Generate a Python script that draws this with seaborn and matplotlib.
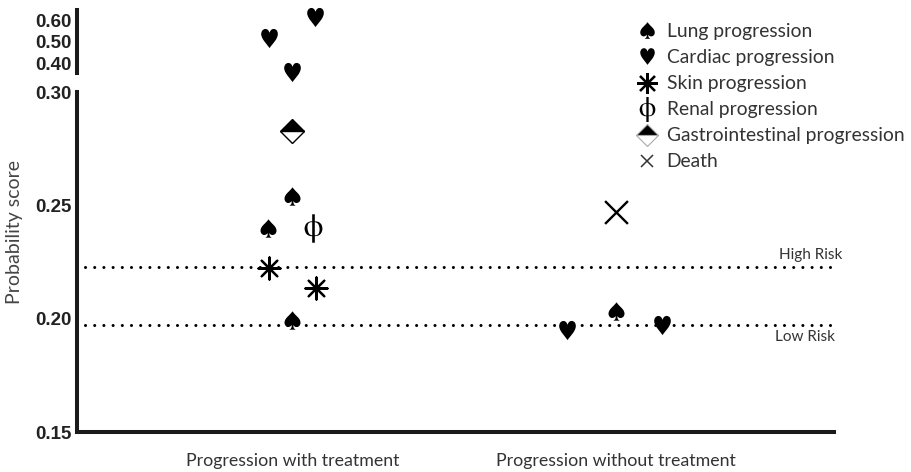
import numpy as np
import pandas as pd
import matplotlib.pyplot as plt
import seaborn as sns
from matplotlib.lines import Line2D
from matplotlib.markers import MarkerStyle

sns.set_style("white")
plt.rcParams["font.family"] = ["Lato", "DejaVu Sans"]
plt.rcParams["mathtext.fontset"] = "stix"

# ---- data ----
categories = ["Progression with treatment", "Progression without treatment"]
outcome = ["Lung", "Lung", "Lung", "Lung",
           "Cardiac", "Cardiac", "Cardiac", "Cardiac", "Cardiac",
           "Skin", "Skin", "Renal", "GI", "Death"]
group = [0, 0, 0, 1,
         0, 0, 0, 1, 1,
         0, 0, 0, 0, 1]
score = [0.2544, 0.2402, 0.1996, 0.2033,
         0.614, 0.516, 0.361, 0.1952, 0.1974,
         0.2225, 0.2136, 0.2399, 0.283, 0.2473]
HIGH_RISK = 0.2229
LOW_RISK = 0.1971
lo_ticks = [0.15, 0.20, 0.25, 0.30]
hi_ticks = [0.40, 0.50, 0.60]

# horizontal spread of overlapping points inside a group (layout only)
x_shift = [0.0, -0.075, 0.0, 0.0,
           0.07, -0.072, 0.0, -0.15, 0.143,
           -0.072, 0.073, 0.065, 0.0, 0.0]

labels = {"Lung": "Lung progression", "Cardiac": "Cardiac progression",
          "Skin": "Skin progression", "Renal": "Renal progression",
          "GI": "Gastrointestinal progression", "Death": "Death"}

SPADE = "$\u2660$"
HEART = "$\u2665$"
PHI = r"$\mathrm{\phi}$"
ASTER = (8, 2, 0)
MARKERS = {
    "Lung":    dict(marker=SPADE, s=175, color="black", edgecolor="black", linewidth=0),
    "Cardiac": dict(marker=HEART, s=190, color="black", edgecolor="black", linewidth=0),
    "Skin":    dict(marker=ASTER, s=250, color="black", linewidth=1.6),
    "Renal":   dict(marker=PHI, s=420, color="black", edgecolor="black", linewidth=0),
    "Death":   dict(marker="x", s=270, color="black", linewidth=1.7),
}

df = pd.DataFrame({"outcome": outcome, "group": group, "score": score})
df["x"] = df["group"] + np.array(x_shift)
BREAK = 0.33

fig = plt.figure(figsize=(9.11, 4.72), dpi=100)
ax_lo = fig.add_axes([0.0845, 0.0847, 0.831, 0.7197])
ax_hi = fig.add_axes([0.0845, 0.846, 0.831, 0.1328])

for ax, sub in ((ax_lo, df[df.score <= BREAK]), (ax_hi, df[df.score > BREAK])):
    for name in labels:
        pts = sub[sub.outcome == name]
        if pts.empty:
            continue
        if name == "GI":
            ax.plot(pts.x, pts.score, ls="none",
                    marker=MarkerStyle("D", fillstyle="top"), ms=12.5,
                    mfc="black", markerfacecoloralt="white", mec="black",
                    mew=1.0, zorder=3, clip_on=False)
        else:
            sns.scatterplot(data=pts, x="x", y="score", ax=ax, legend=False,
                            zorder=3, clip_on=False, **MARKERS[name])

dots = (0, (0.01, 3))
for val in (HIGH_RISK, LOW_RISK):
    ax_lo.axhline(val, xmin=0.01, xmax=0.995, color="black", lw=2.2,
                  ls=dots, dash_capstyle="round", zorder=1)
ax_lo.annotate("High Risk", xy=(1, HIGH_RISK), xycoords=("axes fraction", "data"),
               xytext=(6, 6), textcoords="offset points", ha="right",
               va="baseline", fontsize=11, color="#333333", annotation_clip=False)
ax_lo.annotate("Low Risk", xy=(1, LOW_RISK), xycoords=("axes fraction", "data"),
               xytext=(0.5, -11.5), textcoords="offset points", ha="right",
               va="baseline", fontsize=11, color="#333333", annotation_clip=False)

for ax in (ax_lo, ax_hi):
    ax.set_xlim(-0.667, 1.676)
    ax.set_xlabel("")
    ax.set_ylabel("")
    for side in ("top", "right"):
        ax.spines[side].set_visible(False)
    ax.spines["left"].set_linewidth(2.9)
    ax.spines["left"].set_color("#1a1a1a")
    ax.tick_params(axis="y", length=0, pad=3.5, labelsize=13.5)
    ax.set_facecolor("none")

ax_lo.set_ylim(0.15, 0.30)
ax_lo.set_yticks(lo_ticks)
ax_lo.set_yticklabels([f"{t:.2f}" for t in lo_ticks])
ax_lo.spines["bottom"].set_linewidth(2.9)
ax_lo.spines["bottom"].set_color("#1a1a1a")
ax_lo.set_xticks([0, 1])
ax_lo.set_xticklabels(categories, fontsize=12.8, color="#333333")
ax_lo.tick_params(axis="x", length=9, width=2.8, color="#1a1a1a", pad=6)

ax_hi.set_ylim(0.356, 0.648)
ax_hi.set_yticks(hi_ticks)
ax_hi.set_yticklabels([f"{t:.2f}" for t in hi_ticks])
ax_hi.spines["bottom"].set_visible(False)
ax_hi.set_xticks([])

for ax in (ax_lo, ax_hi):
    for lab in ax.get_yticklabels():
        lab.set_fontfamily("Liberation Sans")
        lab.set_fontweight("bold")
        lab.set_color("#222222")

ax_lo.set_ylabel("Probability score", fontsize=14, color="#444444")
ax_lo.yaxis.set_label_coords(-0.0713, 0.588)

handles = []
for name in labels:
    if name == "GI":
        h = Line2D([], [], ls="none", marker=MarkerStyle("D", fillstyle="top"),
                   ms=11, mfc="black", markerfacecoloralt="white",
                   mec="#aaaaaa", mew=0.8)
    elif name == "Death":
        h = Line2D([], [], ls="none", marker="x", ms=9, color="#333333", mew=1.1)
    else:
        spec = MARKERS[name]
        ms = {"Lung": 12, "Cardiac": 12, "Skin": 15, "Renal": 18}[name]
        mew = 1.6 if name == "Skin" else 0
        h = Line2D([], [], ls="none", marker=spec["marker"], ms=ms,
                   color="black", mew=mew)
    handles.append(h)

fig.legend(handles, list(labels.values()), loc="upper left",
           bbox_to_anchor=(0.700, 0.951), frameon=False, fontsize=13.9,
           handlelength=1.0, handletextpad=0.5, labelspacing=0.47,
           borderpad=0, borderaxespad=0, labelcolor="#333333")

fig.savefig("out.png", dpi=100)
